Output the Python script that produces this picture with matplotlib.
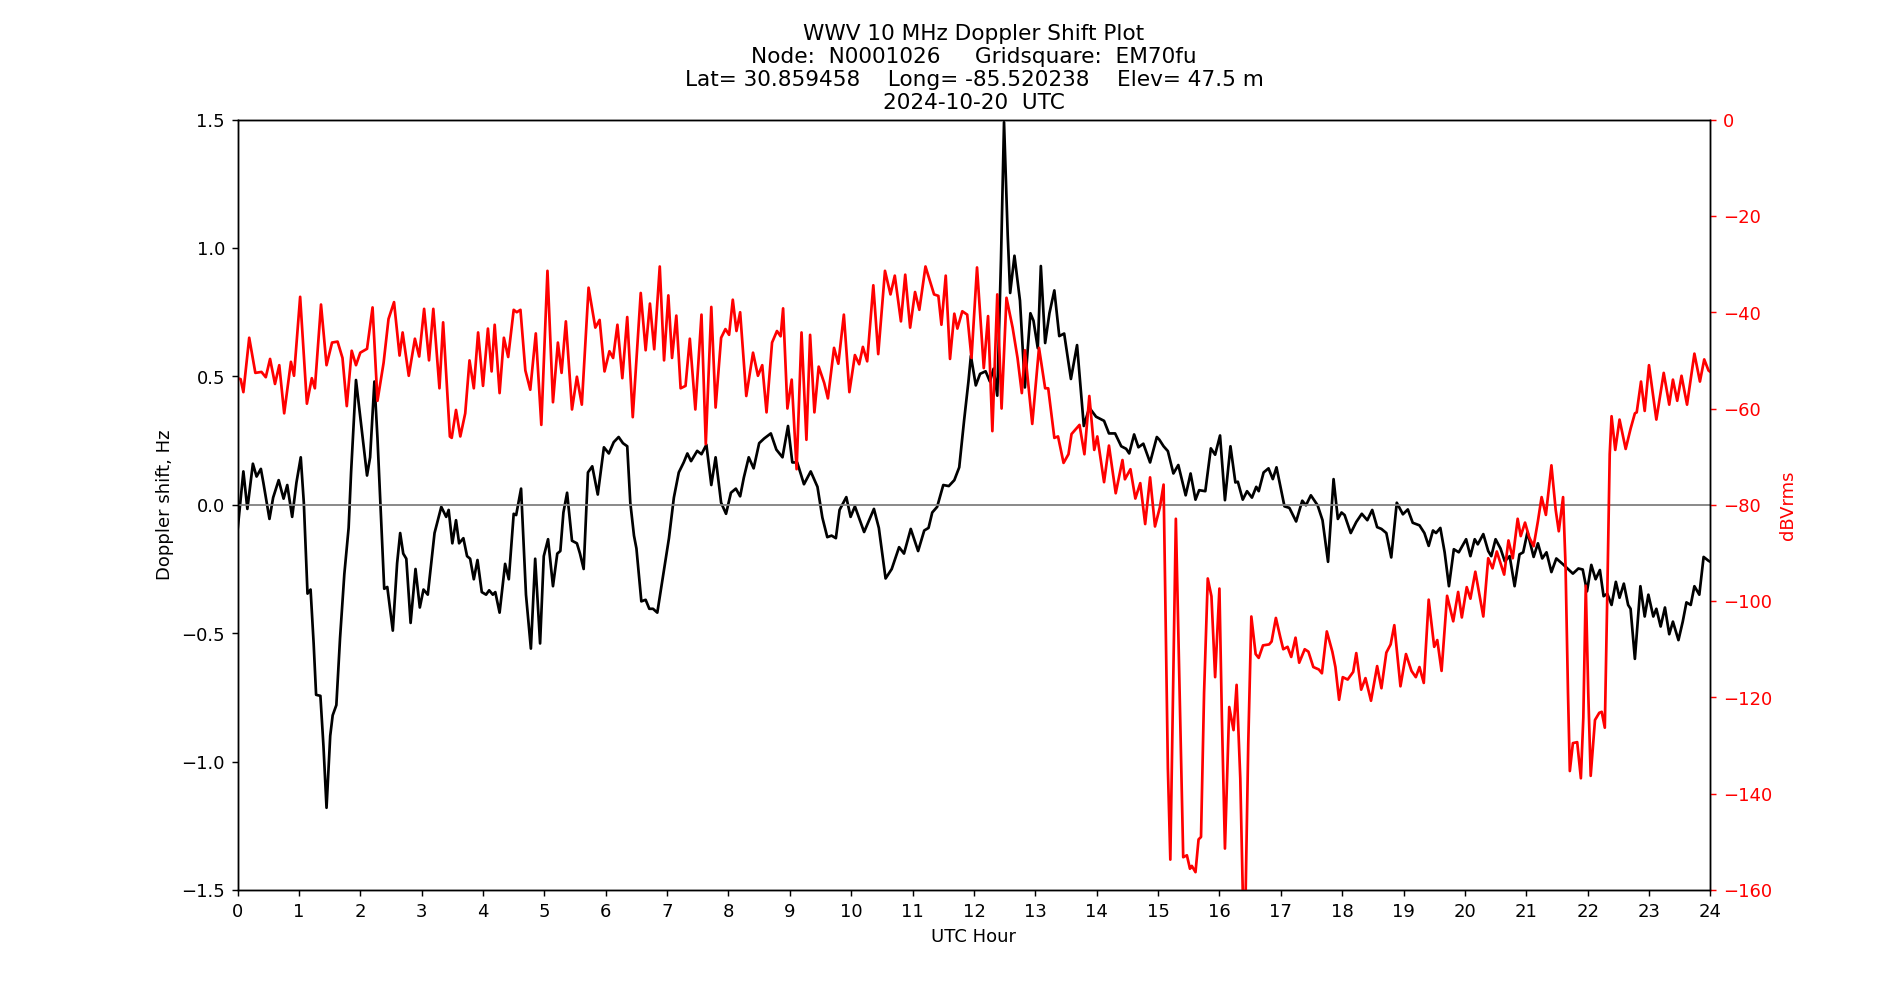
import numpy as np
import matplotlib
matplotlib.use('Agg')
import matplotlib.pyplot as plt

# Doppler shift (Hz)
dop_hr = [0.00, 0.095, 0.16, 0.25, 0.31, 0.38, 0.42, 0.52, 0.58, 0.67, 0.75, 0.81, 0.89, 0.96,
          1.03, 1.08, 1.14, 1.19, 1.24, 1.28, 1.35, 1.40, 1.45, 1.51, 1.55, 1.61, 1.67, 1.74, 1.81, 1.85, 1.93,
          2.01, 2.11, 2.16, 2.23, 2.28, 2.33, 2.39, 2.44, 2.53, 2.60, 2.65, 2.70, 2.75, 2.82, 2.90, 2.97,
          3.03, 3.10, 3.21, 3.32, 3.40, 3.44, 3.50, 3.56, 3.61, 3.68, 3.74, 3.79, 3.85, 3.91, 3.98,
          4.05, 4.10, 4.16, 4.20, 4.27, 4.36, 4.42, 4.50, 4.54, 4.62, 4.70, 4.78, 4.85, 4.93, 4.99,
          5.06, 5.14, 5.21, 5.26, 5.31, 5.37, 5.45, 5.53, 5.58, 5.64, 5.71, 5.78, 5.87, 5.97,
          6.05, 6.13, 6.21, 6.28, 6.35, 6.40, 6.46, 6.50, 6.58, 6.65, 6.71, 6.77, 6.84, 6.92,
          7.03, 7.11, 7.19, 7.27, 7.33, 7.39, 7.49, 7.56, 7.64, 7.72, 7.79, 7.88, 7.96,
          8.04, 8.12, 8.19, 8.25, 8.33, 8.41, 8.50, 8.58, 8.69, 8.78, 8.88, 8.97,
          9.04, 9.12, 9.23, 9.34, 9.45, 9.53, 9.61, 9.68, 9.75, 9.81, 9.92, 9.99,
          10.06, 10.21, 10.37, 10.45, 10.56, 10.66, 10.78, 10.86, 10.97,
          11.09, 11.19, 11.26, 11.32, 11.40, 11.50, 11.59, 11.68, 11.76, 11.84, 11.91, 11.95,
          12.03, 12.10, 12.19, 12.26, 12.32, 12.38, 12.44, 12.49, 12.55, 12.59, 12.66, 12.75, 12.83, 12.92, 12.97,
          13.04, 13.09, 13.16, 13.23, 13.31, 13.39, 13.47, 13.58, 13.68, 13.79, 13.88, 13.99,
          14.12, 14.20, 14.30, 14.40, 14.48, 14.53, 14.61, 14.68, 14.76, 14.87, 14.98,
          15.02, 15.09, 15.16, 15.25, 15.33, 15.45, 15.53, 15.61, 15.67, 15.77, 15.86, 15.93,
          16.01, 16.09, 16.18, 16.26, 16.30, 16.38, 16.45, 16.53, 16.60, 16.64, 16.72, 16.80, 16.87, 16.93,
          17.06, 17.14, 17.25, 17.35, 17.41, 17.49, 17.60, 17.68, 17.77, 17.86, 17.93, 17.99,
          18.04, 18.14, 18.23, 18.32, 18.41, 18.49, 18.57, 18.64, 18.72, 18.80, 18.89, 18.99,
          19.07, 19.15, 19.26, 19.34, 19.41, 19.48, 19.53, 19.60, 19.67, 19.74, 19.82, 19.90,
          20.02, 20.09, 20.16, 20.21, 20.30, 20.38, 20.43, 20.50, 20.58, 20.65, 20.73, 20.81, 20.89, 20.95,
          21.02, 21.12, 21.19, 21.26, 21.33, 21.41, 21.49, 21.60, 21.76, 21.85, 21.92, 21.99,
          22.06, 22.13, 22.20, 22.26, 22.32, 22.39, 22.46, 22.52, 22.59, 22.66, 22.70, 22.77, 22.86, 22.93, 22.99,
          23.07, 23.12, 23.19, 23.26, 23.33, 23.39, 23.48, 23.55, 23.61, 23.68, 23.74, 23.82, 23.89, 23.97, 24.00]
dop_hz = [-0.10, 0.13, -0.016, 0.16, 0.11, 0.14, 0.087, -0.055, 0.028, 0.096, 0.024, 0.077, -0.047, 0.087,
          0.185, 0.008, -0.346, -0.33, -0.54, -0.74, -0.744, -0.94, -1.18, -0.90, -0.82, -0.78, -0.52, -0.27, -0.09, 0.126, 0.486,
          0.32, 0.114, 0.185, 0.48, 0.26, -0.01, -0.327, -0.32, -0.49, -0.228, -0.11, -0.19, -0.21, -0.46, -0.25, -0.40,
          -0.33, -0.35, -0.11, -0.008, -0.047, -0.02, -0.15, -0.06, -0.15, -0.13, -0.20, -0.21, -0.29, -0.215, -0.34,
          -0.35, -0.333, -0.35, -0.34, -0.42, -0.23, -0.29, -0.035, -0.04, 0.063, -0.35, -0.56, -0.21, -0.54, -0.20,
          -0.134, -0.317, -0.19, -0.18, -0.03, 0.047, -0.14, -0.15, -0.19, -0.25, 0.126, 0.15, 0.04, 0.224,
          0.20, 0.244, 0.264, 0.24, 0.228, 0.008, -0.12, -0.17, -0.376, -0.37, -0.405, -0.405, -0.42, -0.297,
          -0.13, 0.028, 0.126, 0.165, 0.20, 0.17, 0.21, 0.197, 0.234, 0.077, 0.185, 0.008, -0.035,
          0.047, 0.063, 0.033, 0.106, 0.185, 0.142, 0.24, 0.258, 0.278, 0.215, 0.185, 0.307,
          0.165, 0.165, 0.08, 0.13, 0.07, -0.05, -0.126, -0.12, -0.13, -0.02, 0.03, -0.047,
          -0.006, -0.106, -0.016, -0.09, -0.287, -0.25, -0.165, -0.19, -0.094,
          -0.18, -0.10, -0.09, -0.03, -0.008, 0.077, 0.073, 0.096, 0.146, 0.33, 0.48, 0.58,
          0.465, 0.51, 0.52, 0.48, 0.53, 0.425, 0.95, 1.49, 1.05, 0.825, 0.97, 0.795, 0.457, 0.746, 0.717,
          0.61, 0.93, 0.63, 0.746, 0.835, 0.657, 0.667, 0.49, 0.622, 0.307, 0.378, 0.343,
          0.327, 0.278, 0.278, 0.228, 0.218, 0.20, 0.274, 0.224, 0.238, 0.165, 0.264,
          0.254, 0.228, 0.209, 0.122, 0.155, 0.037, 0.122, 0.02, 0.057, 0.053, 0.22, 0.195,
          0.27, 0.018, 0.228, 0.087, 0.09, 0.02, 0.053, 0.028, 0.07, 0.053, 0.126, 0.142, 0.10, 0.146,
          -0.006, -0.012, -0.065, 0.016, -0.002, 0.037, -0.002, -0.06, -0.222, 0.10, -0.055, -0.03,
          -0.04, -0.11, -0.067, -0.035, -0.06, -0.02, -0.087, -0.094, -0.11, -0.205, 0.008, -0.037,
          -0.018, -0.07, -0.08, -0.11, -0.16, -0.10, -0.11, -0.09, -0.185, -0.317, -0.173, -0.185,
          -0.134, -0.20, -0.134, -0.154, -0.114, -0.18, -0.20, -0.134, -0.17, -0.22, -0.20, -0.317, -0.193, -0.185,
          -0.106, -0.203, -0.15, -0.209, -0.185, -0.262, -0.209, -0.232, -0.268, -0.248, -0.252, -0.337,
          -0.234, -0.29, -0.254, -0.356, -0.346, -0.39, -0.30, -0.362, -0.307, -0.39, -0.405, -0.60, -0.317, -0.435, -0.35,
          -0.435, -0.405, -0.474, -0.40, -0.504, -0.455, -0.527, -0.455, -0.38, -0.39, -0.317, -0.35, -0.203, -0.218, -0.222]

# signal level (dBVrms)
amp_hr = [0.00, 0.05, 0.095, 0.19, 0.29, 0.39, 0.46, 0.53, 0.61, 0.68, 0.76, 0.87, 0.92,
          1.02, 1.13, 1.21, 1.26, 1.36, 1.45, 1.54, 1.63, 1.71, 1.78, 1.86, 1.93,
          2.00, 2.11, 2.20, 2.28, 2.38, 2.46, 2.55, 2.64, 2.69, 2.79, 2.89, 2.96,
          3.04, 3.12, 3.19, 3.29, 3.35, 3.46, 3.49, 3.56, 3.63, 3.71, 3.78, 3.85, 3.92,
          4.00, 4.08, 4.14, 4.19, 4.27, 4.34, 4.41, 4.50, 4.55, 4.61, 4.69, 4.77, 4.86, 4.95,
          5.05, 5.14, 5.22, 5.28, 5.35, 5.45, 5.53, 5.61, 5.72, 5.83, 5.90, 5.98,
          6.06, 6.12, 6.19, 6.27, 6.35, 6.44, 6.57, 6.65, 6.72, 6.79, 6.88, 6.95,
          7.02, 7.08, 7.15, 7.22, 7.30, 7.37, 7.46, 7.56, 7.63, 7.72, 7.79, 7.88, 7.95,
          8.01, 8.07, 8.13, 8.19, 8.29, 8.40, 8.48, 8.55, 8.62, 8.71, 8.79, 8.85, 8.89, 8.96,
          9.03, 9.11, 9.19, 9.27, 9.33, 9.40, 9.47, 9.56, 9.62, 9.72, 9.79, 9.88, 9.97,
          10.06, 10.13, 10.19, 10.26, 10.36, 10.44, 10.55, 10.64, 10.71, 10.81, 10.88, 10.96,
          11.04, 11.11, 11.21, 11.35, 11.42, 11.47, 11.54, 11.61, 11.68, 11.73, 11.81, 11.89, 11.96,
          12.05, 12.16, 12.23, 12.30, 12.38, 12.45, 12.53, 12.63, 12.71, 12.78, 12.83, 12.95,
          13.06, 13.16, 13.21, 13.31, 13.37, 13.46, 13.54, 13.59, 13.68, 13.72, 13.80, 13.88, 13.96,
          14.01, 14.12, 14.20, 14.31, 14.42, 14.46, 14.55, 14.63, 14.71, 14.79, 14.87, 14.95,
          15.03, 15.09, 15.16, 15.20, 15.29, 15.41, 15.47, 15.52, 15.55, 15.61, 15.66, 15.70, 15.75, 15.81, 15.87, 15.93,
          16.00, 16.04, 16.09, 16.16, 16.23, 16.28, 16.34, 16.39, 16.42, 16.47, 16.52, 16.59, 16.64, 16.71, 16.81, 16.85, 16.92, 16.99,
          17.04, 17.11, 17.17, 17.24, 17.30, 17.39, 17.45, 17.53, 17.62, 17.67, 17.75, 17.84, 17.89, 17.95,
          18.01, 18.09, 18.18, 18.23, 18.31, 18.38, 18.47, 18.57, 18.64, 18.72, 18.79, 18.85, 18.95,
          19.04, 19.13, 19.20, 19.26, 19.33, 19.41, 19.50, 19.55, 19.62, 19.71, 19.81, 19.89, 19.95,
          20.03, 20.09, 20.17, 20.30, 20.38, 20.45, 20.52, 20.64, 20.71, 20.78, 20.86, 20.91, 20.98,
          21.05, 21.12, 21.19, 21.25, 21.32, 21.41, 21.48, 21.53, 21.60, 21.64, 21.68, 21.71, 21.76, 21.83, 21.89, 21.93, 21.97,
          22.01, 22.05, 22.12, 22.19, 22.23, 22.28, 22.32, 22.36, 22.39, 22.45, 22.52, 22.62, 22.70, 22.77, 22.80, 22.87, 22.93,
          23.00, 23.12, 23.24, 23.33, 23.39, 23.46, 23.53, 23.62, 23.74, 23.83, 23.90, 23.97, 24.00]
amp_db = [-53.7, -53.9, -56.6, -45.3, -52.6, -52.4, -53.5, -49.7, -54.9, -51, -61, -50.3, -53.2,
          -36.8, -59, -53.7, -55.8, -38.4, -51, -46.3, -46.1, -49.5, -59.5, -48, -51,
          -48.4, -47.6, -39, -58.4, -50.5, -41.4, -37.9, -49, -44.2, -53.2, -45.5, -49.2,
          -39.3, -50, -39.3, -55.8, -42.1, -65.8, -66.1, -60.3, -65.8, -61, -50, -55.8, -44.2,
          -55.3, -43.4, -52.3, -42.6, -56.8, -45.3, -49.3, -39.5, -40, -39.5, -52.1, -56.1, -44.4, -63.4,
          -31.4, -58.7, -46.3, -52.6, -41.9, -60.2, -53.4, -59.2, -34.9, -43.2, -41.6, -52.3,
          -48.1, -49.5, -42.6, -53.7, -41, -61.8, -36, -47.9, -38.2, -47.7, -30.5, -50,
          -36.5, -49.5, -40.7, -55.8, -55.3, -45.5, -60.2, -40.5, -67.4, -38.9, -59.8, -45.3, -43.5,
          -44.7, -37.4, -43.9, -40, -57.4, -48.4, -53.2, -51, -60.8, -46.3, -43.9, -45, -39.2, -60,
          -54, -72.6, -44.2, -66.5, -44.7, -60.8, -51.3, -54.7, -57.9, -47.4, -50.7, -40.5, -56.6,
          -48.9, -50.8, -47.2, -50.2, -34.4, -48.7, -31.4, -36.3, -32.4, -41.9, -32.2, -43.2,
          -35.8, -39.5, -30.5, -36.3, -36.6, -42.6, -32.4, -49.7, -40.3, -43.4, -39.8, -40.5, -49.5,
          -30.7, -51.6, -40.8, -64.7, -36.3, -60, -37, -43.2, -49.5, -56.8, -47.9, -63.2,
          -47.4, -55.8, -55.8, -66.1, -65.8, -71.3, -69.5, -65.3, -64, -63.4, -69.5, -57.4, -68.6,
          -65.8, -75.3, -67.7, -77.6, -70.7, -74.7, -72.6, -78.7, -75.5, -84, -74.3, -84.5,
          -80.5, -75.8, -134.7, -153.7, -82.9, -153.2, -152.8, -155.6, -155, -156.3, -149.5, -149, -119, -95.3, -99, -115.8,
          -97.4, -124.2, -151.4, -122, -126.8, -117.4, -136.8, -166, -166, -129.5, -103.2, -111, -111.8, -109.2, -109, -108.4, -103.5, -107.4,
          -110, -109.5, -111.6, -107.6, -112.8, -110, -110.5, -113.7, -114.2, -115, -106.3, -110.5, -113.7, -120.5,
          -115.8, -116.3, -114.7, -110.8, -118.4, -116, -120.7, -113.5, -118.1, -110.7, -109, -105, -117.7,
          -111, -114.5, -115.8, -113.7, -117, -99.7, -109.5, -108.1, -114.5, -98.9, -104.2, -98.1, -103.4,
          -97.1, -99.5, -93.9, -103.2, -91.1, -93.2, -89.7, -94.5, -87.4, -91.1, -82.9, -86.5, -83.7,
          -86.8, -88.6, -83.4, -78.4, -82.1, -71.8, -81.1, -85.5, -78.4, -92.6, -119, -135.3, -129.5, -129.3, -136.8, -124.2, -96.8,
          -119, -136.3, -124.7, -123.2, -123, -126.3, -98.9, -69.5, -61.6, -68.6, -62.3, -68.4, -64.2, -61, -60.8, -54.4, -60.5,
          -51, -62.3, -52.6, -59.2, -54, -58.4, -53.2, -59.2, -48.6, -54.4, -49.8, -52.1, -52.4]

title = ('WWV 10 MHz Doppler Shift Plot\n'
         'Node:  N0001026     Gridsquare:  EM70fu\n'
         'Lat= 30.859458    Long= -85.520238    Elev= 47.5 m\n'
         '2024-10-20  UTC')

# original looks like a smaller figure saved at higher dpi -> bigger text / lines
DPI = 130
fig = plt.figure(figsize=(1900.4 / DPI, 1000.4 / DPI), dpi=DPI)
ax1 = fig.add_subplot(111)
ax1.plot(dop_hr, dop_hz, color='black', linewidth=1.5)
ax1.axhline(0, color='gray', linewidth=1)
ax1.set_xlim(0, 24)
ax1.set_ylim(-1.5, 1.5)
ax1.set_xticks(range(0, 25))
ax1.set_yticks(np.arange(-1.5, 1.51, 0.5))
ax1.set_xlabel('UTC Hour')
ax1.set_ylabel('Doppler shift, Hz')
ax1.set_title(title)

ax2 = ax1.twinx()
ax2.plot(amp_hr, amp_db, color='red', linewidth=1.5)
ax2.set_ylim(-160, 0)
ax2.set_ylabel('dBVrms', color='red')
ax2.tick_params(axis='y', colors='red')

plt.savefig('out.png', dpi=DPI)
